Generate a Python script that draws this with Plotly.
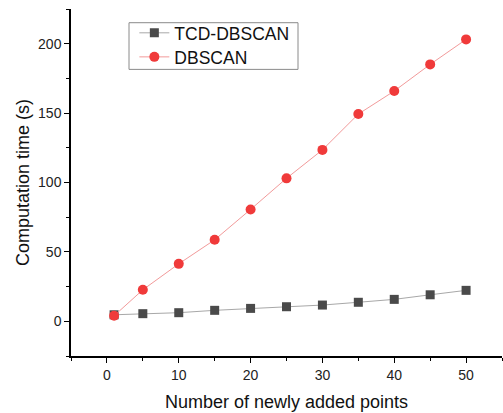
import plotly.graph_objects as go

x_points = [1, 5, 10, 15, 20, 25, 30, 35, 40, 45, 50]
tcd_dbscan = [4.7, 5.5, 6.2, 7.9, 9.3, 10.5, 11.7, 13.7, 15.8, 19.1, 22.3]
dbscan = [4.0, 22.7, 41.4, 58.7, 80.6, 103.0, 123.5, 149.3, 165.9, 185.1, 203.1]

FONT = "Liberation Sans, Arial, sans-serif"
LEGEND_FONT = dict(family=FONT, size=17.5, color="#111111")

fig = go.Figure()
fig.add_trace(go.Scatter(
    x=x_points, y=tcd_dbscan, name="TCD-DBSCAN", mode="lines+markers",
    line=dict(color="#a8a8a8", width=1),
    marker=dict(symbol="square", size=9, color="#4a4a4a"),
    legend="legend",
))
fig.add_trace(go.Scatter(
    x=x_points, y=dbscan, name="DBSCAN", mode="lines+markers",
    line=dict(color="#f29a9a", width=1),
    marker=dict(symbol="circle", size=10, color="#f03a3a"),
    legend="legend2",
))

axis_common = dict(
    showline=True, linecolor="#000000", linewidth=1.5,
    ticks="outside", ticklen=5, tickwidth=1.2, tickcolor="#000000",
    showgrid=False, zeroline=False, automargin=False,
    tickfont=dict(family=FONT, size=14, color="#222222"),
)

fig.update_layout(
    width=503, height=413,
    margin=dict(l=71, r=1, t=9, b=57),
    paper_bgcolor="white", plot_bgcolor="white",
    showlegend=True,
    legend=dict(x=0.147, y=0.931, xanchor="left", yanchor="middle",
                borderwidth=0, bgcolor="rgba(0,0,0,0)", font=LEGEND_FONT),
    legend2=dict(x=0.147, y=0.8617, xanchor="left", yanchor="middle",
                 borderwidth=0, bgcolor="rgba(0,0,0,0)", font=LEGEND_FONT),
    shapes=[dict(type="rect", xref="paper", yref="paper",
                 x0=0.1346, x1=0.5267, y0=0.826, y1=0.9605,
                 line=dict(color="#8a8a8a", width=1), fillcolor="rgba(0,0,0,0)",
                 layer="above")],
)
fig.update_xaxes(
    range=[-5, 55], tickvals=[0, 10, 20, 30, 40, 50],
    minor=dict(ticks="outside", ticklen=3, tickcolor="#000000", dtick=5, tick0=0),
    title=dict(text="Number of newly added points", standoff=14,
               font=dict(family=FONT, size=18, color="#111111")),
    **axis_common,
)
fig.update_yaxes(
    range=[-25, 225], tickvals=[0, 50, 100, 150, 200],
    minor=dict(ticks="outside", ticklen=3, tickcolor="#000000", dtick=25, tick0=0),
    title=dict(text="Computation time (s)", standoff=4,
               font=dict(family=FONT, size=18, color="#111111")),
    **axis_common,
)

fig.write_html(
    "out.html",
    config={"displayModeBar": False},
    post_script="document.body.style.margin='0';document.body.style.overflow='hidden';",
)
